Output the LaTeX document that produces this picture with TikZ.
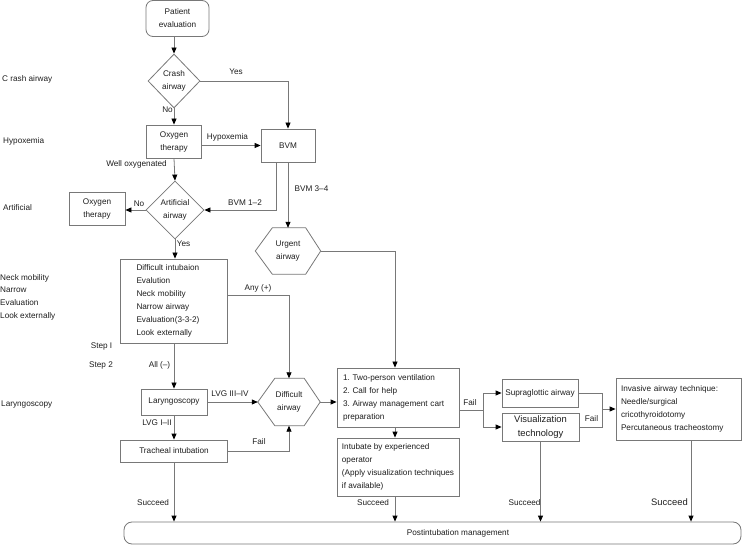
\documentclass[tikz,border=0pt]{standalone}
\usepackage{fontspec}
\setmainfont{Liberation Sans}
\usetikzlibrary{arrows.meta,shapes.geometric}
\definecolor{lg}{RGB}{120,120,120}
\definecolor{tx}{RGB}{30,30,30}
\hyphenpenalty=10000 \exhyphenpenalty=10000 \relax
\frenchspacing
\begin{document}
\begin{tikzpicture}[x=1pt,y=-1pt,
  font=\fontsize{8.2}{13}\selectfont,
  box/.style={draw=lg, line width=0.8pt, fill=white, inner sep=0pt, align=center, text=tx},
  ltext/.style={box, align=left, inner xsep=#1, inner ysep=0pt},
  dia/.style={box, diamond},
  hexa/.style={inner sep=0pt, align=center, text=tx},
  hexline/.style={draw=lg, line width=0.8pt},
  lbl/.style={inner sep=0pt, text=tx, text height=6pt, text depth=1.7pt},
  big/.style={font=\fontsize{9.4}{14}\selectfont},
  conn/.style={draw=lg, line width=0.8pt},
  arr/.style={conn, -{Triangle[length=6pt,width=5pt,color=black]}}]
\useasboundingbox (0,0) rectangle (742,545);

% ---------- main nodes ----------
\node[box, rounded corners=7pt, minimum width=63pt, minimum height=36pt] (pe) at (177.5,18.5) {Patient\\evaluation};
\node[dia, minimum width=52pt, minimum height=54pt] (crash) at (174,81) {Crash\\airway};
\node[box, minimum width=55pt, minimum height=33pt] (o2) at (174,141.5) {Oxygen\\therapy};
\node[box, minimum width=54pt, minimum height=33pt] (bvm) at (288,145.5) {BVM};
\node[dia, minimum width=58pt, minimum height=58pt] (art) at (175,210) {Artificial\\airway};
\node[box, minimum width=56pt, minimum height=33pt] (o2b) at (97,208.5) {Oxygen\\therapy};

\node[hexa, minimum width=65pt, minimum height=46pt] (urg) at (288,251) {Urgent\\airway};
\draw[hexline] (urg.west) -- ([xshift=17pt]urg.north west) -- ([xshift=-15pt]urg.north east) -- (urg.east) -- ([xshift=-15pt]urg.south east) -- ([xshift=17pt]urg.south west) -- cycle;

\node[ltext=16pt, text width=75pt, minimum height=84pt] (di) at (174,301) {Difficult intubaion\\Evalution\\Neck mobility\\Narrow airway\\Evaluation(3-3-2)\\Look externally};
\node[box, minimum width=66pt, minimum height=26pt] (lar) at (174,402) {Laryngoscopy};
\node[box, minimum width=107pt, minimum height=22pt] (ti) at (174,451) {Tracheal intubation};

\node[hexa, minimum width=62pt, minimum height=47pt] (da) at (289,402) {Difficult\\airway};
\draw[hexline] (da.west) -- ([xshift=17pt]da.north west) -- ([xshift=-16pt]da.north east) -- (da.east) -- ([xshift=-16pt]da.south east) -- ([xshift=17pt]da.south west) -- cycle;

\node[ltext=6pt, text width=110pt, minimum height=59pt] (tp) at (398,397.5) {1. Two-person ventilation\\2. Call for help\\3. Airway management cart\\preparation};
\node[ltext=0pt, minimum width=122pt, minimum height=58pt] (ie) at (398,467) {Intubate by experienced\\operator\\(Apply visualization techniques\\if available)};

\node[box, minimum width=76pt, minimum height=28pt] (sg) at (540,393) {Supraglottic airway};
\node[box, big, minimum width=77pt, minimum height=28pt] (vt) at (540.5,427) {Visualization\\technology};
\node[ltext=5pt, text width=115pt, minimum height=62pt] (inv) at (678.5,409) {Invasive airway technique:\\Needle/surgical\\cricothyroidotomy\\Percutaneous tracheostomy};

\node[box, rounded corners=8pt, minimum width=617pt, minimum height=22pt] (pm) at (432.5,533) {};
\node[lbl] (pmt) at (458,533) {Postintubation management};

% ---------- side labels ----------
\node[lbl, anchor=west] (s1) at (2,79) {C rash airway};
\node[lbl, anchor=west] (s2) at (3,141) {Hypoxemia};
\node[lbl, anchor=west] (s3) at (3,208) {Artificial};
\node[lbl, anchor=west] (s4) at (0,278) {Neck mobility};
\node[lbl, anchor=west] (s5) at (0,290.5) {Narrow};
\node[lbl, anchor=west] (s6) at (0,303) {Evaluation};
\node[lbl, anchor=west] (s7) at (0,316) {Look externally};
\node[lbl, anchor=west] (s8) at (1,404) {Laryngoscopy};
\node[lbl] (st1) at (101.5,346) {Step I};
\node[lbl] (st2) at (101,365) {Step 2};

% ---------- connectors ----------
\coordinate (tpx) at (395,0);
\coordinate (f1) at (483,410);
\coordinate (f2) at (602,409);

\draw[arr] (crash.north |- pe.south) -- (crash.north);
\draw[arr] (crash.east) -| (bvm.north);
\draw[arr] (crash.south) -- (o2.north);
\draw[arr] (bvm.west -| o2.east) -- (bvm.west);
\draw[arr] (o2.south) -- (art.north);
\draw[arr] (art.west) -- (art.west -| o2b.east);
\draw[arr] ([xshift=-12pt]bvm.south) |- (art.east);
\draw[arr] (bvm.south) -- (urg.north);
\draw[arr] (art.south) -- (art.south |- di.north);
\draw[arr] (urg.east) -| (tpx |- tp.north);
\draw[arr] ([yshift=6pt]di.east) -| (da.north);
\draw[arr] (di.south) -- (lar.north);
\draw[arr] (lar.east) -- (da.west);
\draw[arr] (lar.south) -- (ti.north);
\draw[arr] (ti.east) -| (da.south);
\draw[arr] (ti.south) -- (ti.south |- pm.north);
\draw[arr] (da.east) -- (da.east -| tp.west);
\draw[arr] (tpx |- tp.south) -- (tpx |- ie.north);
\draw[arr] (tpx |- ie.south) -- (tpx |- pm.north);
\draw[conn] (f1 -| tp.east) -- (f1);
\draw[arr] (f1) |- (sg.west);
\draw[arr] (f1) |- (vt.west);
\draw[conn] (sg.east) -| (f2);
\draw[conn] (vt.east) -| (f2);
\draw[arr] (f2) -- (f2 -| inv.west);
\draw[arr] (vt.south) -- (vt.south |- pm.north);
\draw[arr] ([xshift=12.5pt]inv.south) -- ([xshift=12.5pt]inv.south |- pm.north);

% ---------- connector labels ----------
\node[lbl] (l1) at (236,72) {Yes};
\node[lbl] (l2) at (167.5,110) {No};
\node[lbl] (l3) at (227.5,137) {Hypoxemia};
\node[lbl] (l4) at (136.5,164) {Well oxygenated};
\node[lbl] (l5) at (139,204) {No};
\node[lbl] (l6) at (245,203) {BVM 1–2};
\node[lbl] (l7) at (311.5,189) {BVM 3–4};
\node[lbl] (l8) at (183.5,244) {Yes};
\node[lbl] (l9) at (258,288) {Any (+)};
\node[lbl] (l10) at (159.5,365) {All (–)};
\node[lbl] (l11) at (230,394) {LVG III–IV};
\node[lbl] (l12) at (157,423) {LVG I–II};
\node[lbl] (l13) at (259,442) {Fail};
\node[lbl] (l14) at (153,503) {Succeed};
\node[lbl] (l15) at (470,403) {Fail};
\node[lbl] (l16) at (591.5,419) {Fail};
\node[lbl] (l17) at (373,503) {Succeed};
\node[lbl] (l18) at (524.5,503) {Succeed};
\node[lbl, big] (l19) at (669.5,503) {Succeed};
\end{tikzpicture}
\end{document}
